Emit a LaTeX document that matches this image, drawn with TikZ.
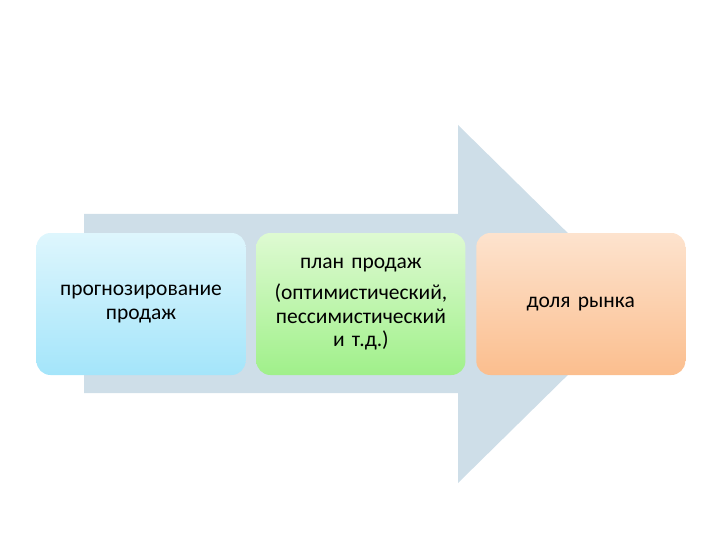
\documentclass[tikz,border=0pt]{standalone}
\usepackage{fontspec}
\setmainfont{Carlito}
\usetikzlibrary{positioning}
\definecolor{arrowblue}{RGB}{206,222,232}
\definecolor{blueTop}{RGB}{222,246,253}
\definecolor{blueBot}{RGB}{164,229,250}
\definecolor{greenTop}{RGB}{222,250,210}
\definecolor{greenBot}{RGB}{160,240,138}
\definecolor{orangeTop}{RGB}{253,227,206}
\definecolor{orangeBot}{RGB}{251,190,142}
\tikzstyle{stage} = [rectangle, rounded corners=14pt, minimum width=209pt, minimum height=142pt,text centered, text width=200pt, inner sep=0pt, font=\fontsize{21.5}{23.5}\selectfont]

\begin{document}
\begin{tikzpicture}[x=1pt, y=1pt, node distance=10.5pt]
\useasboundingbox (0,0) rectangle (720,-540);

% big arrow behind the stages
\fill[arrowblue] (84,-214) -- (458,-214) -- (458,-125) -- (640,-304)
  -- (458,-483) -- (458,-393) -- (84,-393) -- cycle;

\node (forecast) [stage, top color=blueTop, bottom color=blueBot] at (141,-304) {
  прогнозирование\\ продаж};
\node (plan) [stage, top color=greenTop, bottom color=greenBot, right=of forecast] {
  план продаж\\[8pt] (оптимистический,\\ пессимистический\\ и т.д.)};
\node (share) [stage, top color=orangeTop, bottom color=orangeBot, right=of plan] {
  доля рынка};
\end{tikzpicture}
\end{document}
